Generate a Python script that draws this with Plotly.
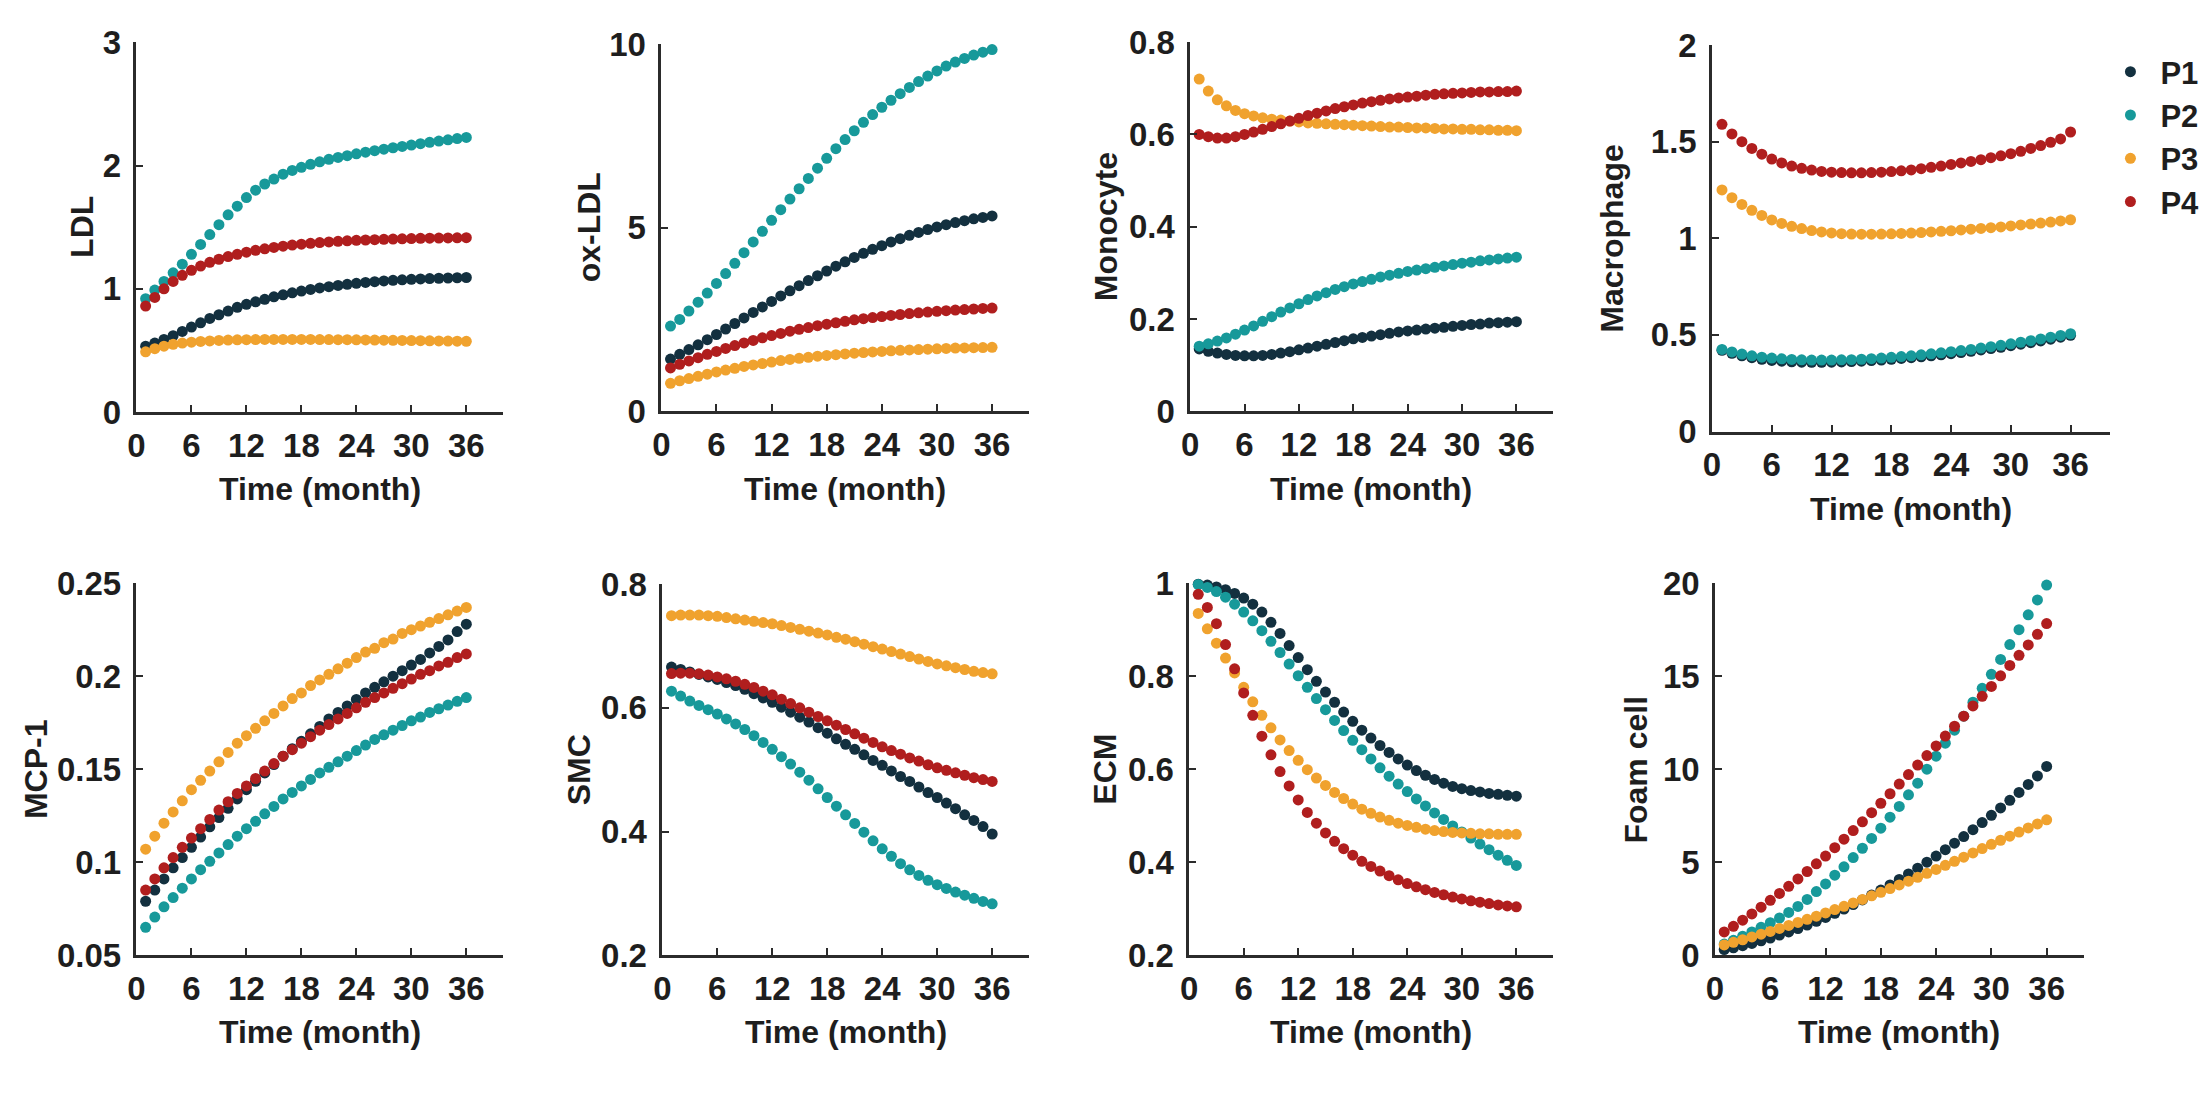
import plotly.graph_objects as go

W, H = 2207, 1094

months = list(range(1, 37))
series_names = ["P1", "P2", "P3", "P4"]
series_colors = ["#13303f", "#17999a", "#f0a22e", "#b01e1e"]

# ---------------- LDL ----------------
ldl_p1 = [0.535, 0.56, 0.59, 0.62, 0.655, 0.69, 0.725, 0.76, 0.79, 0.82, 0.85, 0.875,
          0.895, 0.915, 0.935, 0.952, 0.968, 0.982, 0.995, 1.007, 1.018, 1.028, 1.037, 1.045,
          1.052, 1.058, 1.064, 1.069, 1.073, 1.077, 1.080, 1.083, 1.086, 1.088, 1.090, 1.092]
ldl_p2 = [0.92, 0.99, 1.06, 1.13, 1.20, 1.28, 1.36, 1.44, 1.52, 1.60, 1.67, 1.74,
          1.80, 1.85, 1.89, 1.93, 1.96, 1.985, 2.01, 2.03, 2.05, 2.065, 2.08, 2.095,
          2.108, 2.12, 2.132, 2.144, 2.155, 2.166, 2.177, 2.188, 2.198, 2.208, 2.218, 2.228]
ldl_p3 = [0.49, 0.515, 0.535, 0.55, 0.56, 0.568, 0.574, 0.578, 0.582, 0.585, 0.587, 0.588,
          0.589, 0.59, 0.59, 0.59, 0.59, 0.59, 0.59, 0.589, 0.589, 0.588, 0.588, 0.587,
          0.586, 0.585, 0.584, 0.583, 0.582, 0.581, 0.580, 0.579, 0.578, 0.577, 0.576, 0.575]
ldl_p4 = [0.86, 0.93, 1.00, 1.06, 1.11, 1.15, 1.185, 1.215, 1.24, 1.262, 1.28, 1.297,
          1.312, 1.325, 1.336, 1.346, 1.355, 1.362, 1.369, 1.375, 1.38, 1.385, 1.389, 1.393,
          1.396, 1.399, 1.402, 1.404, 1.406, 1.408, 1.41, 1.411, 1.412, 1.413, 1.414, 1.415]

# ---------------- ox-LDL ----------------
oxldl_p1 = [1.42, 1.55, 1.68, 1.81, 1.95, 2.09, 2.24, 2.39, 2.54, 2.69, 2.84, 2.99,
            3.14, 3.28, 3.42, 3.56, 3.69, 3.82, 3.95, 4.07, 4.19, 4.30, 4.41, 4.51,
            4.61, 4.70, 4.79, 4.87, 4.95, 5.02, 5.08, 5.14, 5.19, 5.24, 5.28, 5.32]
oxldl_p2 = [2.32, 2.50, 2.73, 2.97, 3.22, 3.48, 3.75, 4.03, 4.32, 4.61, 4.90, 5.20,
            5.49, 5.78, 6.06, 6.34, 6.62, 6.89, 7.15, 7.40, 7.64, 7.87, 8.08, 8.28,
            8.47, 8.65, 8.82, 8.98, 9.13, 9.27, 9.40, 9.51, 9.61, 9.70, 9.78, 9.85]
oxldl_p3 = [0.76, 0.83, 0.89, 0.95, 1.01, 1.07, 1.12, 1.17, 1.22, 1.26, 1.30, 1.34,
            1.38, 1.41, 1.44, 1.47, 1.50, 1.52, 1.54, 1.56, 1.58, 1.60, 1.615, 1.63,
            1.645, 1.66, 1.67, 1.68, 1.69, 1.70, 1.71, 1.72, 1.725, 1.73, 1.735, 1.74]
oxldl_p4 = [1.18, 1.28, 1.37, 1.46, 1.55, 1.63, 1.71, 1.79, 1.86, 1.93, 2.00, 2.06,
            2.12, 2.18, 2.23, 2.28, 2.33, 2.37, 2.41, 2.45, 2.49, 2.52, 2.55, 2.58,
            2.61, 2.635, 2.66, 2.68, 2.70, 2.72, 2.74, 2.755, 2.77, 2.785, 2.80, 2.81]

# ---------------- Monocyte ----------------
mono_p1 = [0.135, 0.13, 0.126, 0.123, 0.121, 0.12, 0.12, 0.121, 0.123, 0.126, 0.129, 0.133,
           0.137, 0.141, 0.145, 0.149, 0.153, 0.157, 0.160, 0.163, 0.166, 0.169, 0.172, 0.174,
           0.176, 0.178, 0.180, 0.182, 0.184, 0.186, 0.188, 0.189, 0.191, 0.192, 0.193, 0.194]
mono_p2 = [0.141, 0.146, 0.152, 0.159, 0.167, 0.176, 0.185, 0.195, 0.205, 0.215, 0.224, 0.233,
           0.242, 0.250, 0.257, 0.264, 0.270, 0.276, 0.281, 0.286, 0.291, 0.295, 0.299, 0.303,
           0.306, 0.309, 0.312, 0.315, 0.318, 0.321, 0.323, 0.326, 0.328, 0.330, 0.332, 0.334]
mono_p3 = [0.72, 0.694, 0.675, 0.662, 0.652, 0.645, 0.64, 0.636, 0.633, 0.631, 0.629, 0.627,
           0.625, 0.624, 0.623, 0.622, 0.621, 0.62, 0.619, 0.618, 0.617, 0.616, 0.616, 0.615,
           0.614, 0.614, 0.613, 0.612, 0.612, 0.611, 0.611, 0.610, 0.610, 0.609, 0.609, 0.608]
mono_p4 = [0.60, 0.595, 0.592, 0.592, 0.595, 0.60, 0.605, 0.611, 0.617, 0.623, 0.629, 0.635,
           0.641, 0.646, 0.651, 0.656, 0.66, 0.664, 0.668, 0.671, 0.674, 0.677, 0.679, 0.681,
           0.683, 0.685, 0.687, 0.688, 0.689, 0.69, 0.691, 0.692, 0.692, 0.693, 0.693, 0.694]

# ---------------- Macrophage ----------------
macro_p1 = [0.42, 0.405, 0.392, 0.382, 0.374, 0.368, 0.364, 0.361, 0.359, 0.358, 0.358, 0.359,
            0.36, 0.362, 0.364, 0.367, 0.37, 0.374, 0.378, 0.382, 0.387, 0.392, 0.397, 0.403,
            0.409, 0.415, 0.422, 0.429, 0.436, 0.444, 0.452, 0.46, 0.469, 0.478, 0.488, 0.498]
macro_p2 = [0.425, 0.412, 0.401, 0.392, 0.385, 0.38, 0.376, 0.373, 0.371, 0.37, 0.37, 0.37,
            0.371, 0.372, 0.374, 0.377, 0.38, 0.384, 0.388, 0.392, 0.397, 0.402, 0.407, 0.413,
            0.419, 0.425, 0.432, 0.439, 0.446, 0.454, 0.462, 0.47, 0.479, 0.488, 0.497, 0.506]
macro_p3 = [1.25, 1.21, 1.175, 1.145, 1.118, 1.095, 1.077, 1.062, 1.05, 1.04, 1.033, 1.028,
            1.024, 1.022, 1.021, 1.021, 1.022, 1.023, 1.025, 1.027, 1.03, 1.033, 1.036, 1.039,
            1.043, 1.047, 1.051, 1.055, 1.059, 1.064, 1.069, 1.074, 1.079, 1.084, 1.09, 1.096]
macro_p4 = [1.59, 1.54, 1.50, 1.465, 1.435, 1.41, 1.39, 1.374, 1.362, 1.353, 1.346, 1.342,
            1.34, 1.339, 1.339, 1.34, 1.342, 1.345, 1.349, 1.354, 1.36, 1.367, 1.374, 1.382,
            1.39, 1.398, 1.407, 1.417, 1.427, 1.438, 1.45, 1.465, 1.48, 1.497, 1.514, 1.55]

# ---------------- MCP-1 ----------------
mcp_p1 = [0.079, 0.085, 0.091, 0.097, 0.1025, 0.108, 0.1135, 0.119, 0.124, 0.129, 0.134, 0.139,
          0.1435, 0.148, 0.1525, 0.157, 0.161, 0.165, 0.169, 0.173, 0.177, 0.1805, 0.184, 0.1875,
          0.191, 0.194, 0.197, 0.200, 0.203, 0.206, 0.209, 0.2125, 0.216, 0.2195, 0.224, 0.228]
mcp_p2 = [0.065, 0.0705, 0.076, 0.081, 0.086, 0.091, 0.096, 0.1005, 0.105, 0.1095, 0.114, 0.118,
          0.122, 0.126, 0.130, 0.134, 0.1375, 0.141, 0.1445, 0.148, 0.151, 0.154, 0.157, 0.160,
          0.163, 0.166, 0.1685, 0.171, 0.1735, 0.176, 0.178, 0.1805, 0.1825, 0.1845, 0.1865, 0.1885]
mcp_p3 = [0.107, 0.114, 0.121, 0.127, 0.133, 0.139, 0.144, 0.149, 0.154, 0.159, 0.164, 0.168,
          0.172, 0.176, 0.180, 0.184, 0.188, 0.191, 0.195, 0.198, 0.201, 0.204, 0.207, 0.210,
          0.213, 0.215, 0.218, 0.220, 0.223, 0.225, 0.227, 0.229, 0.231, 0.233, 0.235, 0.237]
mcp_p4 = [0.085, 0.091, 0.097, 0.1025, 0.108, 0.113, 0.118, 0.123, 0.128, 0.1325, 0.137, 0.141,
          0.145, 0.149, 0.153, 0.157, 0.1605, 0.164, 0.1675, 0.171, 0.174, 0.177, 0.180, 0.183,
          0.186, 0.1885, 0.191, 0.1935, 0.196, 0.1985, 0.201, 0.203, 0.2055, 0.2075, 0.210, 0.212]

# ---------------- SMC ----------------
smc_p1 = [0.666, 0.662, 0.658, 0.654, 0.65, 0.646, 0.641, 0.636, 0.63, 0.623, 0.616, 0.609,
          0.601, 0.593, 0.585, 0.577, 0.568, 0.559, 0.55, 0.541, 0.533, 0.524, 0.515, 0.507,
          0.498, 0.489, 0.481, 0.472, 0.463, 0.455, 0.446, 0.437, 0.427, 0.418, 0.408, 0.396]
smc_p2 = [0.627, 0.619, 0.611, 0.604, 0.597, 0.590, 0.582, 0.574, 0.565, 0.555, 0.544, 0.533,
          0.521, 0.509, 0.496, 0.483, 0.469, 0.455, 0.441, 0.427, 0.413, 0.399, 0.385, 0.372,
          0.360, 0.348, 0.338, 0.329, 0.321, 0.314, 0.308, 0.302, 0.297, 0.292, 0.287, 0.283]
smc_p3 = [0.749, 0.750, 0.750, 0.750, 0.749, 0.748, 0.746, 0.744, 0.742, 0.740, 0.738, 0.736,
          0.733, 0.730, 0.727, 0.724, 0.721, 0.718, 0.714, 0.711, 0.707, 0.703, 0.699, 0.695,
          0.691, 0.687, 0.683, 0.679, 0.675, 0.671, 0.668, 0.665, 0.662, 0.659, 0.657, 0.655]
smc_p4 = [0.6555, 0.656, 0.656, 0.655, 0.653, 0.650, 0.647, 0.643, 0.638, 0.633, 0.627, 0.621,
          0.614, 0.607, 0.600, 0.593, 0.586, 0.579, 0.572, 0.565, 0.558, 0.551, 0.544, 0.537,
          0.531, 0.525, 0.519, 0.514, 0.508, 0.503, 0.499, 0.495, 0.491, 0.487, 0.484, 0.481]

# ---------------- ECM ----------------
ecm_p1 = [0.998, 0.996, 0.992, 0.986, 0.978, 0.968, 0.955, 0.938, 0.916, 0.892, 0.866, 0.840,
          0.814, 0.789, 0.766, 0.744, 0.723, 0.703, 0.684, 0.667, 0.651, 0.636, 0.622, 0.609,
          0.597, 0.587, 0.578, 0.570, 0.563, 0.558, 0.554, 0.551, 0.548, 0.546, 0.544, 0.542]
ecm_p2 = [0.997, 0.991, 0.982, 0.970, 0.955, 0.938, 0.919, 0.898, 0.875, 0.851, 0.826, 0.801,
          0.776, 0.752, 0.728, 0.705, 0.683, 0.662, 0.642, 0.622, 0.603, 0.585, 0.568, 0.552,
          0.536, 0.521, 0.506, 0.492, 0.478, 0.465, 0.452, 0.439, 0.427, 0.415, 0.404, 0.393]
ecm_p3 = [0.935, 0.902, 0.871, 0.839, 0.807, 0.776, 0.745, 0.716, 0.689, 0.663, 0.640, 0.619,
          0.599, 0.581, 0.565, 0.550, 0.537, 0.525, 0.514, 0.505, 0.497, 0.490, 0.484, 0.479,
          0.475, 0.471, 0.468, 0.466, 0.464, 0.463, 0.462, 0.461, 0.461, 0.460, 0.460, 0.460]
ecm_p4 = [0.976, 0.948, 0.913, 0.868, 0.816, 0.764, 0.716, 0.671, 0.631, 0.595, 0.564, 0.534,
          0.507, 0.484, 0.463, 0.445, 0.429, 0.415, 0.402, 0.391, 0.381, 0.371, 0.362, 0.354,
          0.347, 0.341, 0.335, 0.330, 0.325, 0.321, 0.317, 0.314, 0.311, 0.308, 0.306, 0.304]

# ---------------- Foam cell ----------------
foam_p1 = [0.30, 0.40, 0.51, 0.63, 0.77, 0.92, 1.08, 1.25, 1.43, 1.62, 1.82, 2.03,
           2.25, 2.48, 2.72, 2.97, 3.23, 3.50, 3.78, 4.07, 4.37, 4.68, 5.00, 5.33,
           5.67, 6.02, 6.38, 6.75, 7.13, 7.52, 7.92, 8.33, 8.75, 9.18, 9.64, 10.15]
foam_p2 = [0.60, 0.80, 1.02, 1.25, 1.50, 1.75, 2.00, 2.30, 2.62, 3.00, 3.42, 3.83,
           4.30, 4.75, 5.25, 5.75, 6.28, 6.83, 7.42, 8.00, 8.62, 9.25, 10.00, 10.70,
           11.40, 12.10, 12.85, 13.60, 14.35, 15.10, 15.90, 16.70, 17.50, 18.30, 19.10, 19.90]
foam_p3 = [0.55, 0.69, 0.83, 0.98, 1.13, 1.28, 1.44, 1.60, 1.76, 1.93, 2.10, 2.27,
           2.45, 2.63, 2.81, 3.00, 3.19, 3.38, 3.58, 3.78, 3.98, 4.19, 4.40, 4.61,
           4.83, 5.05, 5.27, 5.50, 5.73, 5.96, 6.18, 6.40, 6.62, 6.84, 7.06, 7.28]
foam_p4 = [1.25, 1.55, 1.88, 2.22, 2.58, 2.95, 3.32, 3.70, 4.10, 4.50, 4.91, 5.33,
           5.78, 6.24, 6.70, 7.17, 7.66, 8.17, 8.68, 9.20, 9.71, 10.22, 10.73, 11.25,
           11.78, 12.31, 12.85, 13.40, 13.92, 14.45, 15.02, 15.58, 16.12, 16.68, 17.25, 17.83]

x_ticks = [0, 6, 12, 18, 24, 30, 36]

# (y label, series, y range, y tick values, y tick text, pixel box [left, right, top, bottom], y-title x)
panels = [
    ("LDL", [ldl_p1, ldl_p2, ldl_p3, ldl_p4], [0, 3], [0, 1, 2, 3], ["0", "1", "2", "3"],
     [128, 496, 25, 408], 73),
    ("ox-LDL", [oxldl_p1, oxldl_p2, oxldl_p3, oxldl_p4], [0, 10], [0, 5, 10], ["0", "5", "10"],
     [655, 1024, 27, 407], 582),
    ("Monocyte", [mono_p1, mono_p2, mono_p3, mono_p4], [0, 0.8], [0, 0.2, 0.4, 0.6, 0.8],
     ["0", "0.2", "0.4", "0.6", "0.8"], [1186, 1550, 25, 407], 1101),
    ("Macrophage", [macro_p1, macro_p2, macro_p3, macro_p4], [0, 2], [0, 0.5, 1, 1.5, 2],
     ["0", "0.5", "1", "1.5", "2"], [1710, 2110, 28, 428], 1610),
    ("MCP-1", [mcp_p1, mcp_p2, mcp_p3, mcp_p4], [0.05, 0.25], [0.05, 0.1, 0.15, 0.2, 0.25],
     ["0.05", "0.1", "0.15", "0.2", "0.25"], [128, 496, 585, 970], 27),
    ("SMC", [smc_p1, smc_p2, smc_p3, smc_p4], [0.2, 0.8], [0.2, 0.4, 0.6, 0.8],
     ["0.2", "0.4", "0.6", "0.8"], [656, 1024, 586, 970], 572),
    ("ECM", [ecm_p1, ecm_p2, ecm_p3, ecm_p4], [0.2, 1], [0.2, 0.4, 0.6, 0.8, 1],
     ["0.2", "0.4", "0.6", "0.8", "1"], [1185, 1550, 585, 970], 1101),
    ("Foam cell", [foam_p1, foam_p2, foam_p3, foam_p4], [0, 20], [0, 5, 10, 15, 20],
     ["0", "5", "10", "15", "20"], [1713, 2083, 585, 970], 1634),
]

FONT = "Liberation Sans, Arial, sans-serif"
AXIS_COLOR = "#2b2b2b"
TEXT_COLOR = "#1e1e1e"
TICK_SIZE = 33
TITLE_SIZE = 32

fig = go.Figure()
layout = dict(
    width=W, height=H,
    margin=dict(l=0, r=0, t=0, b=0),
    paper_bgcolor="white", plot_bgcolor="white",
    showlegend=True,
    legend=dict(
        x=2100 / W, y=1 - 28 / H, xanchor="left", yanchor="top",
        font=dict(family=FONT, size=31, color=TEXT_COLOR, weight="bold"),
        bgcolor="rgba(0,0,0,0)", borderwidth=0, tracegroupgap=0, itemwidth=50,
    ),
)
annotations = []


def px_to_x(px):
    return px / W


def px_to_y(py):
    return 1 - py / H


for i, (ylabel, data, yrange, yticks, yticktext, box, title_px) in enumerate(panels):
    n = i + 1
    xa = "xaxis" if n == 1 else f"xaxis{n}"
    ya = "yaxis" if n == 1 else f"yaxis{n}"
    left, right, top, bottom = box

    common = dict(
        showline=True, linecolor=AXIS_COLOR, linewidth=2.5,
        ticks="inside", ticklen=7, tickwidth=2, tickcolor=AXIS_COLOR,
        showgrid=False, zeroline=False, mirror=False,
        tickfont=dict(family=FONT, size=TICK_SIZE, color=TEXT_COLOR, weight="bold"),
        fixedrange=True,
    )
    layout[xa] = dict(
        common, domain=[px_to_x(left), px_to_x(right)], range=[0, 40],
        tickmode="array", tickvals=x_ticks, ticktext=[str(t) for t in x_ticks],
        anchor=f"y{n}" if n > 1 else "y", ticklabelstandoff=2,
    )
    layout[ya] = dict(
        common, domain=[px_to_y(bottom), px_to_y(top)], range=yrange,
        tickmode="array", tickvals=yticks, ticktext=yticktext,
        anchor=f"x{n}" if n > 1 else "x", ticklabelstandoff=6,
    )

    for name, color, values in zip(series_names, series_colors, data):
        fig.add_trace(go.Scatter(
            x=months, y=values, mode="markers", name=name,
            marker=dict(size=11, color=color, line=dict(width=0)),
            xaxis=f"x{n}" if n > 1 else "x", yaxis=f"y{n}" if n > 1 else "y",
            showlegend=(n == 1), legendgroup=name, cliponaxis=False,
            hoverinfo="x+y+name",
        ))

    # x-axis title under each panel
    annotations.append(dict(
        text="Time (month)", xref="paper", yref="paper",
        x=px_to_x((left + right) / 2), y=px_to_y(bottom + 80),
        xanchor="center", yanchor="middle", showarrow=False,
        font=dict(family=FONT, size=TITLE_SIZE, color=TEXT_COLOR, weight="bold"),
    ))
    # rotated y-axis title left of the tick labels
    annotations.append(dict(
        text=ylabel, xref="paper", yref="paper",
        x=px_to_x(title_px), y=px_to_y((top + bottom) / 2),
        xanchor="center", yanchor="middle", textangle=-90, showarrow=False,
        font=dict(family=FONT, size=TITLE_SIZE, color=TEXT_COLOR, weight="bold"),
    ))

layout["annotations"] = annotations
fig.update_layout(**layout)
fig.write_html("out.html")
